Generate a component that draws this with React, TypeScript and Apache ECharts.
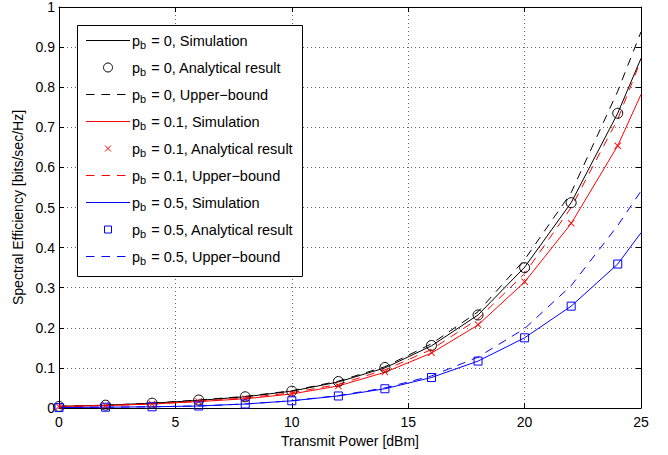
import React, { useEffect, useRef } from "react";
import * as echarts from "echarts";

const xLine = [0, 2, 4, 6, 8, 10, 12, 14, 16, 18, 20, 22, 24, 25];
const xMark = [0, 2, 4, 6, 8, 10, 12, 14, 16, 18, 20, 22, 24];

const sim0 = [0.004, 0.007, 0.012, 0.019, 0.028, 0.042, 0.065, 0.1, 0.155, 0.232, 0.351, 0.512, 0.735, 0.872];
const ana0 = [0.004, 0.007, 0.012, 0.02, 0.028, 0.042, 0.066, 0.101, 0.156, 0.232, 0.35, 0.512, 0.735];
const ub0 = [0.004, 0.007, 0.012, 0.02, 0.029, 0.043, 0.067, 0.103, 0.16, 0.24, 0.37, 0.537, 0.79, 0.938];

const sim1 = [0.004, 0.006, 0.01, 0.016, 0.023, 0.035, 0.055, 0.089, 0.137, 0.207, 0.314, 0.46, 0.654, 0.782];
const ana1 = [0.004, 0.006, 0.01, 0.016, 0.023, 0.035, 0.055, 0.09, 0.138, 0.208, 0.315, 0.461, 0.654];
const ub1 = [0.004, 0.006, 0.01, 0.017, 0.025, 0.038, 0.059, 0.095, 0.146, 0.222, 0.335, 0.5, 0.72, 0.868];

const sim5 = [0.001, 0.002, 0.003, 0.005, 0.01, 0.018, 0.03, 0.048, 0.076, 0.117, 0.175, 0.254, 0.359, 0.437];
const ana5 = [0.001, 0.002, 0.003, 0.005, 0.01, 0.018, 0.03, 0.048, 0.076, 0.117, 0.175, 0.254, 0.359];
const ub5 = [0.001, 0.002, 0.003, 0.005, 0.01, 0.018, 0.031, 0.05, 0.08, 0.127, 0.198, 0.305, 0.455, 0.541];

const xTicks = [0, 5, 10, 15, 20, 25];

const pbValues = ["0", "0.1", "0.5"];
const kinds = ["Simulation", "Analytical result", "Upper\u2212bound"];

const FONT = "'Liberation Sans', Arial, Helvetica, sans-serif";
const DASH = [8.5, 7];
const CROSS = "path://M0,0.9L0.9,0L5,4.1L9.1,0L10,0.9L5.9,5L10,9.1L9.1,10L5,5.9L0.9,10L0,9.1L4.1,5Z";

function pairs(xs: number[], ys: number[]) {
  return xs.map((x, i) => [x, ys[i]]);
}

function lineSeries(name: string, color: string, xs: number[], ys: number[], dashed: boolean) {
  return {
    name,
    type: "line",
    data: pairs(xs, ys),
    symbol: "none",
    showSymbol: false,
    color,
    lineStyle: { color, width: 1, type: dashed ? DASH : "solid" },
    itemStyle: { color, opacity: 0 },
    z: 2,
  };
}

function markSeries(name: string, color: string, ys: number[], symbol: string, size: number) {
  return {
    name,
    type: "line",
    data: pairs(xMark, ys),
    symbol,
    symbolSize: size,
    showSymbol: true,
    color,
    lineStyle: { color, width: 0, opacity: 0 },
    itemStyle: symbol === CROSS
      ? { color, borderWidth: 0 }
      : { color: "rgba(0,0,0,0)", borderColor: color, borderWidth: 1 },
    z: 3,
  };
}

export default function App() {
  const ref = useRef<HTMLDivElement>(null);
  useEffect(() => {
    if (!ref.current) return;
    const chart = echarts.init(ref.current, undefined, { renderer: "svg" });
    const colors = ["#000000", "#ff0000", "#0000ff"];
    const marks = ["circle", CROSS, "rect"];
    const markSizes = [10, 7, 8];
    const sims = [sim0, sim1, sim5];
    const anas = [ana0, ana1, ana5];
    const ubs = [ub0, ub1, ub5];
    const label = (g: number, k: number) => "p_b = " + pbValues[g] + ", " + kinds[k];

    const series: any[] = [];
    for (let g = 0; g < 3; g++) {
      series.push(lineSeries(label(g, 0), colors[g], xLine, sims[g], false));
      series.push(markSeries(label(g, 1), colors[g], anas[g], marks[g], markSizes[g]));
      series.push(lineSeries(label(g, 2), colors[g], xLine, ubs[g], true));
    }

    // Legend box drawn with graphic elements
    const lx0 = 86, lx1 = 130, mx = 108, tx = 132;
    const rowTop = 40, rowStep = 27;
    const rich = {
      p: { fontSize: 14.5, fontFamily: FONT, fill: "#000", lineHeight: 14 },
      b: { fontSize: 11, fontFamily: FONT, fill: "#000", padding: [8, 1, 0, 0], lineHeight: 14 },
      t: { fontSize: 14.5, fontFamily: FONT, fill: "#000", lineHeight: 14 },
    };
    const els: any[] = [
      {
        type: "rect",
        z: 100,
        shape: { x: 77.5, y: 25.5, width: 225, height: 251 },
        style: { fill: "#ffffff", stroke: "#000000", lineWidth: 1 },
      },
    ];
    for (let g = 0; g < 3; g++) {
      for (let k = 0; k < 3; k++) {
        const i = g * 3 + k;
        const y = rowTop + rowStep * i + 0.5;
        const c = colors[g];
        if (k === 0 || k === 2) {
          els.push({
            type: "line",
            z: 101,
            shape: { x1: lx0, y1: y, x2: lx1, y2: y },
            style: { stroke: c, lineWidth: 1, lineDash: k === 2 ? DASH : null },
          });
        } else if (g === 0) {
          els.push({
            type: "circle",
            z: 101,
            shape: { cx: mx, cy: y, r: 4.5 },
            style: { fill: "none", stroke: c, lineWidth: 1 },
          });
        } else if (g === 1) {
          els.push({
            type: "line", z: 101,
            shape: { x1: mx - 3, y1: y - 3, x2: mx + 3, y2: y + 3 },
            style: { stroke: c, lineWidth: 1 },
          });
          els.push({
            type: "line", z: 101,
            shape: { x1: mx - 3, y1: y + 3, x2: mx + 3, y2: y - 3 },
            style: { stroke: c, lineWidth: 1 },
          });
        } else {
          els.push({
            type: "rect",
            z: 101,
            shape: { x: mx - 3.5, y: y - 3.5, width: 7, height: 7 },
            style: { fill: "none", stroke: c, lineWidth: 1 },
          });
        }
        els.push({
          type: "text",
          z: 101,
          x: tx,
          y: y,
          style: {
            text: "{p|p}{b|b}{t| = " + pbValues[g] + ", " + kinds[k] + "}",
            rich,
            verticalAlign: "middle",
            align: "left",
            fill: "#000",
          },
        });
      }
    }

    const axisCommon = {
      axisLine: { show: true, onZero: false, lineStyle: { color: "#000", width: 1 } },
      axisTick: { show: true, inside: true, length: 5, lineStyle: { color: "#000" } },
    };
    chart.setOption({
      animation: false,
      backgroundColor: "#ffffff",
      textStyle: { fontFamily: FONT },
      grid: { left: 59, right: 27, top: 5, bottom: 47, containLabel: false },
      legend: { show: false },
      graphic: { elements: els },
      xAxis: [
        {
          type: "value",
          min: xTicks[0],
          max: xTicks[xTicks.length - 1],
          interval: 5,
          position: "bottom",
          name: "Transmit Power [dBm]",
          nameLocation: "middle",
          nameGap: 24,
          nameTextStyle: { fontFamily: FONT, fontSize: 14, color: "#000" },
          ...axisCommon,
          axisLabel: { fontFamily: FONT, fontSize: 14, color: "#000", margin: 7 },
          splitLine: { show: true, lineStyle: { color: "#666", type: [1, 3], width: 1 } },
        },
        {
          type: "value",
          min: xTicks[0],
          max: xTicks[xTicks.length - 1],
          interval: 5,
          position: "top",
          ...axisCommon,
          axisLabel: { show: false },
          splitLine: { show: false },
        },
      ],
      yAxis: [
        {
          type: "value",
          min: 0,
          max: 1,
          interval: 0.1,
          position: "left",
          name: "Spectral Efficiency [bits/sec/Hz]",
          nameLocation: "middle",
          nameGap: 32,
          nameTextStyle: { fontFamily: FONT, fontSize: 14, color: "#000" },
          ...axisCommon,
          axisLabel: { fontFamily: FONT, fontSize: 14, color: "#000", margin: 4 },
          splitLine: { show: true, lineStyle: { color: "#666", type: [1, 3], width: 1 } },
        },
        {
          type: "value",
          min: 0,
          max: 1,
          interval: 0.1,
          position: "right",
          ...axisCommon,
          axisLabel: { show: false },
          splitLine: { show: false },
        },
      ],
      series,
    });
    return () => chart.dispose();
  }, []);
  return (
    <div
      ref={ref}
      style={{ position: "fixed", left: 0, top: 0, width: 668, height: 455 }}
    />
  );
}
